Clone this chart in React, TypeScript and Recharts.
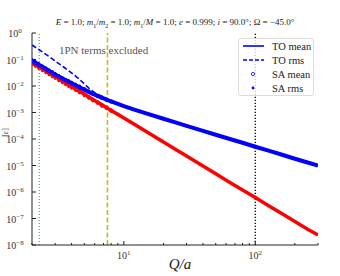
import React from "react";
import {
    ComposedChart,
    Line,
    Scatter,
    XAxis,
    YAxis,
    ReferenceLine,
} from "recharts";

document.body.style.margin = "0";

// Q/a sample points
const qa = [2, 2.25, 2.5, 2.75, 3, 3.5, 4, 4.5, 5, 5.5, 6, 7, 8, 9, 10, 12, 15, 20, 25, 30, 40, 50, 65, 80, 100, 130, 160, 200, 250, 300];
// blue: TO mean
const toMean = [0.092, 0.064, 0.047, 0.035, 0.027, 0.018, 0.0128, 0.0093, 0.0073, 0.0057, 0.0047, 0.0034, 0.0026, 0.0021, 0.00173, 0.00128, 9.0e-4, 5.8e-4, 4.12e-4, 3.13e-4, 2.03e-4, 1.45e-4, 9.8e-5, 7.2e-5, 5.1e-5, 3.5e-5, 2.55e-5, 1.8e-5, 1.3e-5, 1.0e-5];
// blue dashed: TO rms (merges into the mean past ~6)
const toRms = [0.355, 0.239, 0.167, 0.122, 0.088, 0.051, 0.031, 0.0195, 0.012, 0.0078, 0.0056, 0.0037, 0.0027, 0.0021, 0.00173, null, null, null, null, null, null, null, null, null, null, null, null, null, null, null];
// red curve
const redMean = [0.075, 0.053, 0.039, 0.0295, 0.0228, 0.0144, 0.0096, 0.0068, 0.0049, 0.0037, 0.00286, 0.0018, 0.0012, 8.5e-4, 6.2e-4, 3.6e-4, 1.83e-4, 7.7e-5, 3.9e-5, 2.3e-5, 9.6e-6, 4.9e-6, 2.2e-6, 1.2e-6, 6.2e-7, 2.8e-7, 1.5e-7, 7.7e-8, 3.9e-8, 2.4e-8];

// SA markers (left part only, the rest hides under the lines)
const saQa = [2, 2.12, 2.25, 2.4, 2.55, 2.7, 2.85, 3, 3.2, 3.4, 3.6, 3.8, 4, 4.3, 4.6, 5, 5.4, 5.8, 6.3, 6.8, 7.4, 8];
const saMean = [0.09, 0.075, 0.063, 0.052, 0.044, 0.037, 0.032, 0.027, 0.023, 0.019, 0.0165, 0.0145, 0.0128, 0.0108, 0.0092, 0.0074, 0.0061, 0.0051, 0.0042, 0.0036, 0.003, 0.0026];
const saRms = [0.1, 0.083, 0.07, 0.058, 0.049, 0.041, 0.035, 0.03, 0.025, 0.021, 0.018, 0.016, 0.014, 0.0118, 0.0101, 0.0081, 0.0066, 0.0055, 0.0045, 0.0038, 0.0032, 0.0027];
const saRedMean = [0.074, 0.062, 0.052, 0.043, 0.036, 0.03, 0.0255, 0.022, 0.018, 0.0151, 0.0127, 0.0108, 0.0093, 0.0075, 0.0061, 0.0048, 0.0038, 0.003, 0.0024, 0.0019, 0.0015, 0.0012];
const saRedRms = [0.064, 0.054, 0.045, 0.037, 0.031, 0.026, 0.022, 0.019, 0.0156, 0.013, 0.011, 0.0094, 0.0081, 0.0066, 0.0054, 0.0042, 0.0034, 0.0027, 0.0022, 0.0017, 0.0014, 0.0011];

const xTicks = [2, 3, 4, 5, 6, 7, 8, 9, 10, 20, 30, 40, 50, 60, 70, 80, 90, 100, 200, 300];
const yTicks = [1e-8, 1e-7, 1e-6, 1e-5, 1e-4, 1e-3, 1e-2, 1e-1, 1];

const green = "#2ca02c";
const olive = "#bcbd22";
const axisColor = "#222";
const serif = "'Liberation Serif', 'DejaVu Serif', serif";

const rows = qa.map((q, i) => ({ q, mean: toMean[i], rms: toRms[i], red: redMean[i] }));
const saPts = (vals: number[]) => saQa.map((q, i) => ({ q, v: vals[i] }));

const isMajor = (v: number) => Math.abs(Math.log10(v) - Math.round(Math.log10(v))) < 1e-6;

function BottomTick({ x, y, payload }: any) {
    const v = payload.value;
    const major = isMajor(v);
    const y0 = y - 6;
    return (
        <g>
            <line x1={x} x2={x} y1={y0} y2={y0 - (major ? 4 : 2)} stroke={axisColor} />
            {major && (
                <text x={x} y={y0 + 14} textAnchor="middle" fontFamily={serif} fontSize={10} fill="#333">
                    10<tspan dy={-4} fontSize={7}>{Math.round(Math.log10(v))}</tspan>
                </text>
            )}
        </g>
    );
}

function TopTick({ x, y, payload }: any) {
    const major = isMajor(payload.value);
    return <line x1={x} x2={x} y1={y} y2={y + (major ? 4 : 2)} stroke={axisColor} />;
}

function LeftTick({ x, y, payload }: any) {
    const e = Math.round(Math.log10(payload.value));
    const x0 = x + 4;
    return (
        <g>
            <line x1={x0} x2={x0 + 4} y1={y} y2={y} stroke={axisColor} />
            <text x={x - 13} y={y + 4} textAnchor="middle" fontFamily={serif} fontSize={10} fill="#333">
                10<tspan dy={-4} fontSize={7}>{e === 0 ? "0" : "\u2212" + Math.abs(e)}</tspan>
            </text>
        </g>
    );
}

function RightTick({ x, y }: any) {
    return <line x1={x} x2={x - 4} y1={y} y2={y} stroke={axisColor} />;
}

const hollow = (color: string) => (p: any) => (
    <circle cx={p.cx} cy={p.cy} r={1.8} fill="none" stroke={color} strokeWidth={0.8} />
);
const filled = (color: string) => (p: any) => <circle cx={p.cx} cy={p.cy} r={1.3} fill={color} />;

function LegendBox() {
    const item = (sample: React.ReactNode, label: string) => (
        <div style={{ display: "flex", alignItems: "center", height: 14 }}>
            <svg width={24} height={10} style={{ marginRight: 6 }}>{sample}</svg>
            <span>{label}</span>
        </div>
    );
    return (
        <div
            style={{
                position: "absolute",
                left: 238,
                top: 38,
                width: 76,
                height: 58,
                boxSizing: "border-box",
                padding: "0 0 0 3px",
                border: "1px solid #ddd",
                borderRadius: 3,
                background: "rgba(255,255,255,0.8)",
                fontFamily: serif,
                fontSize: 10.5,
                color: "#222",
                display: "flex",
                flexDirection: "column",
                justifyContent: "center",
            }}
        >
            {item(<line x1={1} x2={22} y1={5} y2={5} stroke="#0000ff" strokeWidth={1.6} />, "TO mean")}
            {item(<line x1={1} x2={22} y1={5} y2={5} stroke="#0000ff" strokeWidth={1.6} strokeDasharray="4 2" />, "TO rms")}
            {item(<circle cx={11} cy={5} r={1.6} fill="none" stroke="#0000ff" strokeWidth={0.8} />, "SA mean")}
            {item(<circle cx={11} cy={5} r={1.4} fill="#0000ff" />, "SA rms")}
        </div>
    );
}

export default function App() {
    return (
        <div style={{ position: "relative", width: 340, height: 276, background: "#fff", overflow: "hidden" }}>
            <ComposedChart width={340} height={276} data={rows} margin={{ top: 33, right: 22, bottom: 0, left: 2 }}>
                <XAxis
                    dataKey="q"
                    type="number"
                    scale="log"
                    domain={[2, 300]}
                    allowDataOverflow
                    ticks={xTicks}
                    interval={0}
                    height={31}
                    tickSize={0}
                    tickMargin={6}
                    stroke={axisColor}
                    tick={<BottomTick />}
                />
                <XAxis
                    xAxisId="top"
                    orientation="top"
                    dataKey="q"
                    type="number"
                    scale="log"
                    domain={[2, 300]}
                    allowDataOverflow
                    ticks={xTicks}
                    interval={0}
                    height={0}
                    tickSize={0}
                    tickMargin={0}
                    stroke={axisColor}
                    tick={<TopTick />}
                />
                <YAxis
                    type="number"
                    scale="log"
                    domain={[1e-8, 1]}
                    allowDataOverflow
                    ticks={yTicks}
                    interval={0}
                    width={30}
                    tickSize={0}
                    tickMargin={4}
                    stroke={axisColor}
                    tick={<LeftTick />}
                />
                <YAxis
                    yAxisId="right"
                    orientation="right"
                    type="number"
                    scale="log"
                    domain={[1e-8, 1]}
                    allowDataOverflow
                    ticks={yTicks}
                    interval={0}
                    width={0}
                    tickSize={0}
                    tickMargin={0}
                    stroke={axisColor}
                    tick={<RightTick />}
                />
                <ReferenceLine x={2.27} stroke={green} strokeWidth={1} strokeDasharray="1 2" />
                <ReferenceLine x={7.5} stroke={olive} strokeWidth={1.6} strokeDasharray="5 2.5" />
                <ReferenceLine x={100} stroke="#111" strokeWidth={1.4} strokeDasharray="1.2 1.8" />

                <Line dataKey="red" stroke="#ff0000" strokeWidth={3.5} dot={false} isAnimationActive={false} />
                <Scatter data={saPts(saRedMean)} dataKey="v" shape={hollow("#ff0000")} isAnimationActive={false} />
                <Scatter data={saPts(saRedRms)} dataKey="v" shape={filled("#ff0000")} isAnimationActive={false} />

                <Line dataKey="rms" stroke="#0000ff" strokeWidth={1.6} strokeDasharray="5 2.5" dot={false} isAnimationActive={false} />
                <Line dataKey="mean" stroke="#0000ff" strokeWidth={4} dot={false} isAnimationActive={false} />
                <Scatter data={saPts(saMean)} dataKey="v" shape={hollow("#0000ff")} isAnimationActive={false} />
                <Scatter data={saPts(saRms)} dataKey="v" shape={filled("#0000ff")} isAnimationActive={false} />
            </ComposedChart>

            <div
                style={{
                    position: "absolute",
                    left: 0,
                    width: 350,
                    top: 17,
                    textAlign: "center",
                    fontFamily: serif,
                    fontSize: 9,
                    color: "#222",
                    whiteSpace: "nowrap",
                }}
            >
                <i>E</i> = 1.0; <i>m</i><sub style={{ fontSize: 6 }}>1</sub>/<i>m</i><sub style={{ fontSize: 6 }}>2</sub> = 1.0;{" "}
                <i>m</i><sub style={{ fontSize: 6 }}>1</sub>/<i>M</i> = 1.0; <i>e</i> = 0.999; <i>i</i> = 90.0°; Ω = −45.0°
            </div>
            <div style={{ position: "absolute", left: 59, top: 44, fontFamily: serif, fontSize: 11, color: "#555" }}>
                1PN terms excluded
            </div>
            <div
                style={{
                    position: "absolute",
                    left: 160,
                    top: 256,
                    width: 40,
                    textAlign: "center",
                    fontFamily: serif,
                    fontSize: 15,
                    fontStyle: "italic",
                    color: "#222",
                }}
            >
                Q/a
            </div>
            <div
                style={{
                    position: "absolute",
                    left: 1,
                    top: 128,
                    transform: "rotate(-90deg)",
                    transformOrigin: "center",
                    fontFamily: serif,
                    fontSize: 8,
                    color: "#333",
                }}
            >
                [ε]
            </div>
            <LegendBox />
        </div>
    );
}
